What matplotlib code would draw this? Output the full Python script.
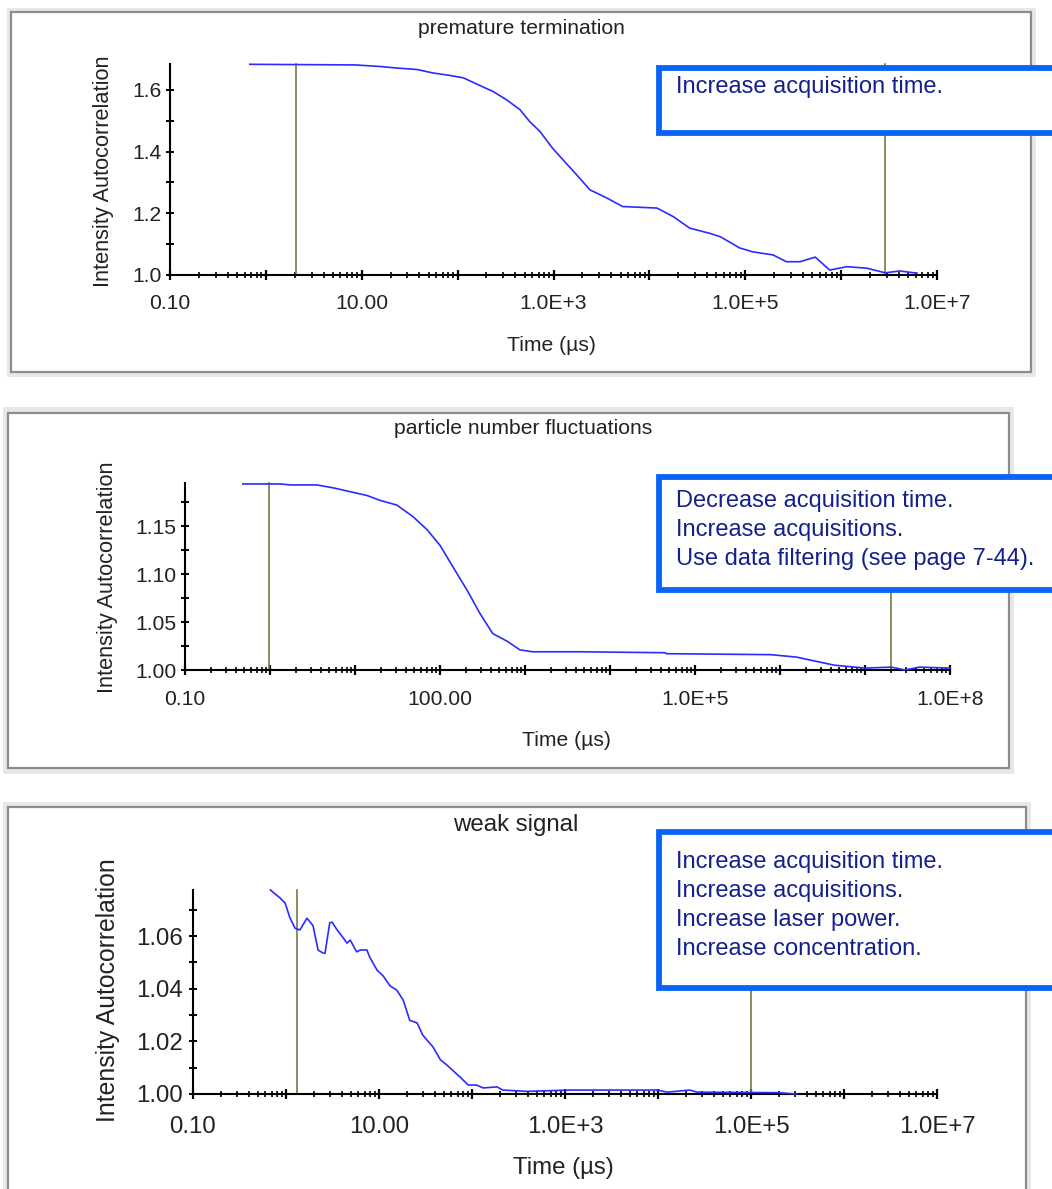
import matplotlib
matplotlib.use('Agg')
import matplotlib.pyplot as plt
from matplotlib.patches import Rectangle
from matplotlib.ticker import FixedLocator, FixedFormatter, LogLocator, NullFormatter

# fonts: Arial look-alike first
plt.rcParams['font.family'] = ['Liberation Sans', 'DejaVu Sans']

# ---- data (time in us, g2 value) ----
titles = ['premature termination', 'particle number fluctuations', 'weak signal']

t_premature = [0.68, 8.5, 15.5, 23, 38, 55, 83, 115, 158, 234, 324, 447, 562, 724, 977,
               1260, 1740, 2400, 3630, 5250, 12000, 17800, 26300, 42700, 55000, 87000,
               120000, 195000, 269000, 372000, 537000, 759000, 1150000, 1860000, 2880000,
               4070000, 6170000]
g_premature = [1.683, 1.681, 1.676, 1.671, 1.666, 1.655, 1.647, 1.639, 1.619, 1.595, 1.568,
               1.536, 1.498, 1.465, 1.411, 1.373, 1.325, 1.276, 1.249, 1.222, 1.217, 1.189,
               1.152, 1.135, 1.124, 1.088, 1.075, 1.065, 1.043, 1.043, 1.058, 1.016, 1.027,
               1.022, 1.007, 1.013, 1.006]
cursor_premature = [2.07, 2.9e6]

t_particle = [0.48, 1.32, 1.74, 3.55, 5.5, 8.7, 13.8, 19.5, 31, 48, 71, 100, 141, 209, 295,
              417, 617, 871, 1230, 4470, 44700, 46000, 776000, 1550000, 4370000, 10200000,
              20400000, 29500000, 43700000, 100000000]
g_particle = [1.194, 1.194, 1.193, 1.193, 1.190, 1.186, 1.182, 1.177, 1.172, 1.160, 1.146,
              1.130, 1.108, 1.083, 1.059, 1.038, 1.030, 1.021, 1.019, 1.019, 1.018, 1.017,
              1.016, 1.0135, 1.005, 1.002, 1.003, 1.000, 1.003, 1.002]
cursor_particle = [0.98, 2.0e7]

t_weak = [0.68, 0.86, 0.98, 1.10, 1.25, 1.41, 1.68, 1.95, 2.21, 2.51, 2.63, 2.95, 3.13, 3.55,
          4.07, 4.53, 4.90, 5.75, 6.31, 7.41, 7.94, 9.55, 11.0, 13.2, 15.5, 18.2, 21.4, 25.7,
          29.5, 38.0, 45.7, 53.7, 74.1, 91.2, 112, 132, 186, 214, 389, 1120, 3310, 9770,
          12600, 21900, 26300, 195000, 309000]
g_weak = [1.0775, 1.0745, 1.0725, 1.067, 1.063, 1.0623, 1.0668, 1.064, 1.0547, 1.0535, 1.0535,
          1.065, 1.0653, 1.0623, 1.0596, 1.0573, 1.0585, 1.054, 1.0547, 1.0547, 1.052, 1.047,
          1.045, 1.041, 1.0395, 1.0357, 1.028, 1.027, 1.0224, 1.0179, 1.013, 1.011, 1.0065,
          1.0034, 1.0034, 1.0023, 1.0027, 1.0015, 1.001, 1.0015, 1.0015, 1.0015, 1.0007,
          1.0015, 1.0007, 1.0005, 1.0]
cursor_weak = [1.31, 1.0e5]

# tick labels
x_labels_2dec = ['0.10', '', '10.00', '', '1.0E+3', '', '1.0E+5', '', '1.0E+7']
x_labels_3dec = ['0.10', '', '', '100.00', '', '', '1.0E+5', '', '', '1.0E+8']
y_premature = [1.0, 1.2, 1.4, 1.6]
y_premature_lab = ['1.0', '1.2', '1.4', '1.6']
y_particle = [1.00, 1.05, 1.10, 1.15]
y_particle_lab = ['1.00', '1.05', '1.10', '1.15']
y_weak = [1.00, 1.02, 1.04, 1.06]
y_weak_lab = ['1.00', '1.02', '1.04', '1.06']

# advice boxes
advice_premature = ['Increase acquisition time.']
advice_particle = ['Decrease acquisition time.', 'Increase acquisitions.',
                   'Use data filtering (see page 7-44).']
advice_weak = ['Increase acquisition time.', 'Increase acquisitions.',
               'Increase laser power.', 'Increase concentration.']

W, H = 1052, 1189
fig = plt.figure(figsize=(W / 100, H / 100), dpi=100, facecolor='white')

BLUE = '#2b2bff'
OLIVE = '#6b7f3e'
BOXBLUE = '#0a64f5'
NAVY = '#14218a'
TXT = '#222222'


def px_rect(x0, y0, x1, y1, **kw):
    r = Rectangle((x0 / W, 1 - y1 / H), (x1 - x0) / W, (y1 - y0) / H,
                  transform=fig.transFigure, **kw)
    fig.add_artist(r)


def ftext(x, y, s, **kw):
    fig.text(x / W, 1 - y / H, s, **kw)


def panel(outer, frame, axbox, xmax, ylim, t, g, cursors, xlabels, yticks, ylabels, yminor,
          title, title_xy, ylab_xy, xlab_xy, box, advice, line_y, fs, ypad, xpad):
    # grey surround + white frame
    px_rect(*outer, facecolor='#e8e8e8', edgecolor='none', zorder=-3)
    px_rect(*frame, facecolor='white', edgecolor='#8c8c8c', linewidth=1.6, zorder=-2)

    x0, y0, x1, y1 = axbox
    ax = fig.add_axes([x0 / W, 1 - y1 / H, (x1 - x0) / W, (y1 - y0) / H])
    ax.patch.set_alpha(0)
    ax.set_xscale('log')
    ax.set_xlim(0.1, xmax)
    ax.set_ylim(*ylim)

    for c in cursors:
        ax.plot([c, c], ylim, color=OLIVE, lw=1.2, clip_on=False, zorder=2)
    ax.plot(t, g, color=BLUE, lw=1.2, clip_on=False, zorder=3)

    decades = [10.0 ** k for k in range(-1, len(xlabels) - 1)]
    ax.xaxis.set_major_locator(FixedLocator(decades))
    ax.xaxis.set_major_formatter(FixedFormatter(xlabels))
    ax.xaxis.set_minor_locator(LogLocator(base=10, subs=range(2, 10), numticks=30))
    ax.xaxis.set_minor_formatter(NullFormatter())
    ax.yaxis.set_major_locator(FixedLocator(yticks))
    ax.yaxis.set_major_formatter(FixedFormatter(ylabels))
    ax.yaxis.set_minor_locator(FixedLocator(yminor))

    for s in ['top', 'right']:
        ax.spines[s].set_visible(False)
    for s in ['left', 'bottom']:
        ax.spines[s].set_linewidth(1.5)
        ax.spines[s].set_color('black')

    ax.tick_params(axis='x', which='major', direction='inout', length=7, width=1.6,
                   labelsize=fs, labelcolor=TXT, pad=xpad)
    ax.tick_params(axis='x', which='minor', direction='inout', length=5, width=1.2)
    ax.tick_params(axis='y', which='both', direction='inout', length=6, width=1.4,
                   labelsize=fs, labelcolor=TXT, pad=ypad)

    ftext(*title_xy, title, ha='center', va='center', fontsize=fs, color=TXT)
    ftext(*ylab_xy, 'Intensity Autocorrelation', ha='center', va='center', rotation=90,
          fontsize=fs * 1.03, color=TXT)
    ftext(*xlab_xy, 'Time (\u00b5s)', ha='center', va='center', fontsize=fs, color=TXT)

    # advice callout, runs off the right edge
    bx0, by0, by1 = box
    px_rect(bx0, by0, W + 40, by1, facecolor='white', edgecolor=BOXBLUE,
            linewidth=4.2, zorder=5)
    for line, ly in zip(advice, line_y):
        ftext(676, ly, line, ha='left', va='center', fontsize=17, color=NAVY, zorder=6)
    return ax


panel((7, 8, 1036, 377), (11, 12, 1031, 372), (170, 64, 937, 275), 1e7, (1.0, 1.684),
      t_premature, g_premature, cursor_premature, x_labels_2dec,
      y_premature, y_premature_lab, [1.1, 1.3, 1.5],
      titles[0], (521, 28), (103, 171), (551, 345),
      (659, 68, 133), advice_premature, [87], 15.2, 3.2, 10.4)

panel((3, 407, 1014, 774), (8, 413, 1009, 768), (185, 483, 950, 670), 1e8, (1.0, 1.195),
      t_particle, g_particle, cursor_particle, x_labels_3dec,
      y_particle, y_particle_lab, [1.025, 1.075, 1.125, 1.175],
      titles[1], (523, 428), (107, 577), (566, 740),
      (659, 477, 590), advice_particle, [501, 530, 559], 15.2, 3.2, 11)

panel((3, 802, 1031, 1200), (8, 807, 1026, 1200), (193, 890, 937, 1094), 1e7, (1.0, 1.0775),
      t_weak, g_weak, cursor_weak, x_labels_2dec,
      y_weak, y_weak_lab, [1.01, 1.03, 1.05, 1.07],
      titles[2], (516, 825), (108, 990), (563, 1168),
      (659, 832, 988), advice_weak, [862, 891, 920, 949], 17.3, 4.0, 12.5)

fig.savefig('out.png', dpi=100, facecolor='white')
